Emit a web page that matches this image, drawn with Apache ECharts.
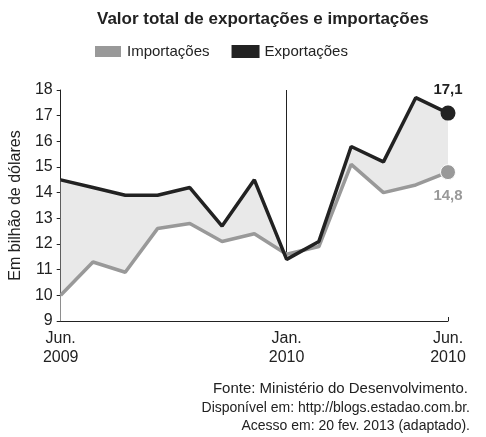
<!DOCTYPE html>
<html><head><meta charset="utf-8">
<script src="https://cdn.jsdelivr.net/npm/echarts@6/dist/echarts.min.js"></script>
<style>html,body{margin:0;padding:0;background:#fff}#c{width:486px;height:437px}</style>
</head><body><div id="c"></div>
<script>
var months = ['Jun.\n2009','Jul','Ago','Set','Out','Nov','Dez','Jan.\n2010','Fev','Mar','Abr','Mai','Jun.\n2010'];
var exportacoes = [14.5, 14.2, 13.9, 13.9, 14.2, 12.7, 14.5, 11.4, 12.1, 15.8, 15.2, 17.7, 17.1];
var importacoes = [10.0, 11.3, 10.9, 12.6, 12.8, 12.1, 12.4, 11.6, 11.9, 15.1, 14.0, 14.3, 14.8];
var shown = [0, 7, 12];

var chart = echarts.init(document.getElementById('c'));
var font = 'Liberation Sans, Arial, sans-serif';
function endPoint(arr, color, pos) {
    return arr.map(function(v, i) {
        if (i < arr.length - 1) return v;
        return {value: v,
            label: {show: true, position: pos, formatter: String(v).replace('.', ','),
                fontWeight: 'bold', fontSize: 15, fontFamily: font, color: color, distance: 8}};
    });
}
function lastOnly(v, p) { return p.dataIndex === months.length - 1 ? 15 : 0; }
chart.setOption({
    animation: false,
    textStyle: {fontFamily: font},
    title: {text: 'Valor total de exportações e importações', left: 92, top: 6,
        textStyle: {fontSize: 17, fontWeight: 'bold', color: '#222', fontFamily: font}},
    legend: {left: 88, top: 39, itemGap: 22, itemWidth: 28, itemHeight: 13,
        textStyle: {fontSize: 15, color: '#222'},
        data: [{name: 'Importações', icon: 'rect', itemStyle: {color: '#999'}},
               {name: 'Exportações', icon: 'rect', itemStyle: {color: '#222'}}]},
    grid: {left: 53, right: 38, top: 90, bottom: 116},
    graphic: [
        {type: 'text', right: 18, top: 381, style: {text: 'Fonte: Ministério do Desenvolvimento.', fontSize: 15, fill: '#222', fontFamily: font}},
        {type: 'text', right: 16, top: 401, style: {text: 'Disponível em: http://blogs.estadao.com.br.', fontSize: 14, fill: '#222', fontFamily: font}},
        {type: 'text', right: 16, top: 419, style: {text: 'Acesso em: 20 fev. 2013 (adaptado).', fontSize: 14, fill: '#222', fontFamily: font}}
    ],
    xAxis: {type: 'category', data: months, boundaryGap: false,
        axisLine: {lineStyle: {color: '#222'}},
        axisTick: {show: true, alignWithLabel: true, inside: true, length: 4, lineStyle: {color: '#222'}},
        axisLabel: {interval: function(i) { return shown.indexOf(i) >= 0; }, fontSize: 16, color: '#222', margin: 8, lineHeight: 19, align: 'center'},
        splitLine: {show: true, interval: function(i) { return i === 7; }, lineStyle: {color: '#222', width: 1}}},
    yAxis: {type: 'value', min: 9, max: 18, interval: 1,
        name: 'Em bilhão de dólares', nameLocation: 'middle', nameGap: 34, nameTextStyle: {fontSize: 16, color: '#222'},
        axisLine: {show: true, lineStyle: {color: '#222'}},
        axisTick: {show: true, inside: false, length: 4, lineStyle: {color: '#222'}},
        axisLabel: {fontSize: 16, color: '#222', margin: 8},
        splitLine: {show: false}},
    series: [
        {name: 'Exportações', type: 'line', data: exportacoes, showSymbol: false, symbol: 'none',
            lineStyle: {width: 0}, itemStyle: {color: '#222'},
            areaStyle: {color: '#e9e9e9', origin: 'start', opacity: 1}, z: 2, silent: true},
        {name: 'Importações', type: 'line', data: endPoint(importacoes, '#999', 'bottom'),
            showSymbol: true, symbol: 'circle', symbolSize: lastOnly,
            lineStyle: {color: '#999', width: 3.5}, itemStyle: {color: '#999', borderColor: '#fff', borderWidth: 1},
            areaStyle: {color: '#fff', origin: 'start', opacity: 1}, z: 3},
        {name: 'Exportações', type: 'line', data: endPoint(exportacoes, '#222', 'top'),
            showSymbol: true, symbol: 'circle', symbolSize: lastOnly,
            lineStyle: {color: '#222', width: 3.5}, itemStyle: {color: '#222'}, z: 4}
    ]
});
</script></body></html>
